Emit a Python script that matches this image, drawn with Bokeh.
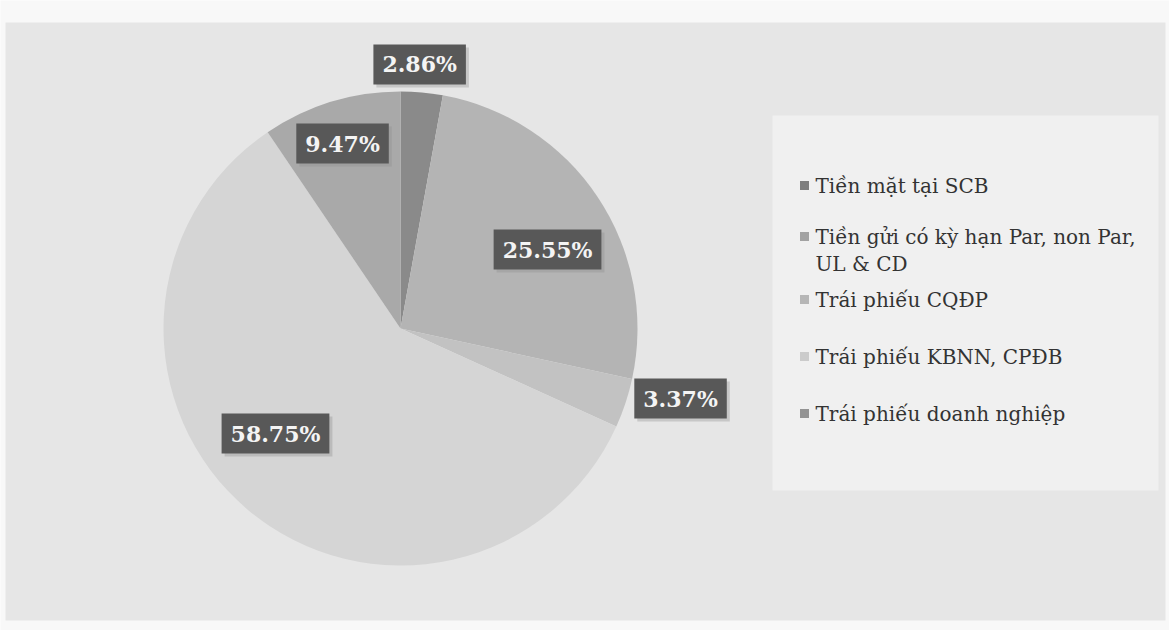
import math
import textwrap
from bokeh.plotting import figure
from bokeh.models import Range1d
from bokeh.core.properties import value
from bokeh.embed import file_html
from bokeh.resources import INLINE

# ---- data ----
categories = [
    "Tiền mặt tại SCB",
    "Tiền gửi có kỳ hạn Par, non Par, UL & CD",
    "Trái phiếu CQĐP",
    "Trái phiếu KBNN, CPĐB",
    "Trái phiếu doanh nghiệp",
]
shares = [2.86, 25.55, 3.37, 58.75, 9.47]
share_labels = ["2.86%", "25.55%", "3.37%", "58.75%", "9.47%"]

# ---- styles / layout ----
slice_colors = ["#8a8a8a", "#b4b4b4", "#c2c2c2", "#d5d5d5", "#a9a9a9"]
legend_colors = ["#7e7e7e", "#a2a2a2", "#b6b6b6", "#cbcbcb", "#939393"]
W, H = 1169, 630
cx, cy_img, R = 400, 328, 237
cy = H - cy_img
label_r = [1.117, 0.704, 1.218, 0.689, 0.818]
label_da = [-1.0, 5.5, -4.3, 9.8, -0.35]

p = figure(width=W, height=H, x_range=Range1d(0, W), y_range=Range1d(0, H),
           output_backend="svg", toolbar_location=None, min_border=0)
p.axis.visible = False
p.grid.visible = False
p.outline_line_color = None
p.background_fill_color = "#f8f8f8"
p.border_fill_color = "#f8f8f8"

# scanned chart area and lighter legend area
p.quad(left=[5], right=[1165], bottom=[H - 620], top=[H - 22], fill_color="#e6e6e6", line_color=None)
p.quad(left=[772], right=[1158], bottom=[H - 490], top=[H - 115], fill_color="#f0f0f0", line_color=None)

# pie
total = sum(shares)
cum = 0.0
starts, ends, mids = [], [], []
for s in shares:
    a0 = math.pi / 2 - 2 * math.pi * cum / total
    cum += s
    a1 = math.pi / 2 - 2 * math.pi * cum / total
    starts.append(a0)
    ends.append(a1)
    mids.append((a0 + a1) / 2)

p.wedge(x=[cx] * len(shares), y=[cy] * len(shares), radius=R,
        start_angle=starts, end_angle=ends, direction="clock",
        fill_color=slice_colors, line_color=None)

# data labels
lx, ly = [], []
for m, rf, da in zip(mids, label_r, label_da):
    a = m - math.radians(da)
    lx.append(cx + rf * R * math.cos(a))
    ly.append(cy + rf * R * math.sin(a))

# shadow
p.text(x=lx, y=ly, text=share_labels, x_offset=3, y_offset=3,
       text_font=value("DejaVu Serif"), text_font_style="bold", text_font_size="22px",
       text_color="#9a9a9a", text_alpha=0.0, text_align="center", text_baseline="middle",
       background_fill_color="#8c8c8c", background_fill_alpha=0.35, padding=[9, 7])
p.text(x=lx, y=ly, text=share_labels,
       text_font=value("DejaVu Serif"), text_font_style="bold", text_font_size="22px",
       text_color="#f4f4f4", text_align="center", text_baseline="middle",
       background_fill_color="#585858", padding=[9, 7])

# legend
sq_x, sq_y, sq_c = [], [], []
tx, ty, tt = [], [], []
for i, (name, col) in enumerate(zip(categories, legend_colors)):
    lines = textwrap.wrap(name, 32)
    y0 = 185 + 57 * i - (len(lines) - 1) * 6
    sq_x.append(804)
    sq_y.append(H - y0)
    sq_c.append(col)
    for j, ln in enumerate(lines):
        tx.append(815)
        ty.append(H - (y0 + 27 * j))
        tt.append(ln)

p.rect(x=sq_x, y=sq_y, width=9, height=9, fill_color=sq_c, line_color=None)
p.text(x=tx, y=ty, text=tt, text_font=value("DejaVu Serif"), text_font_size="20px",
       text_color="#333333", text_align="left", text_baseline="middle")

open("out.html", "w").write(file_html(p, INLINE))
